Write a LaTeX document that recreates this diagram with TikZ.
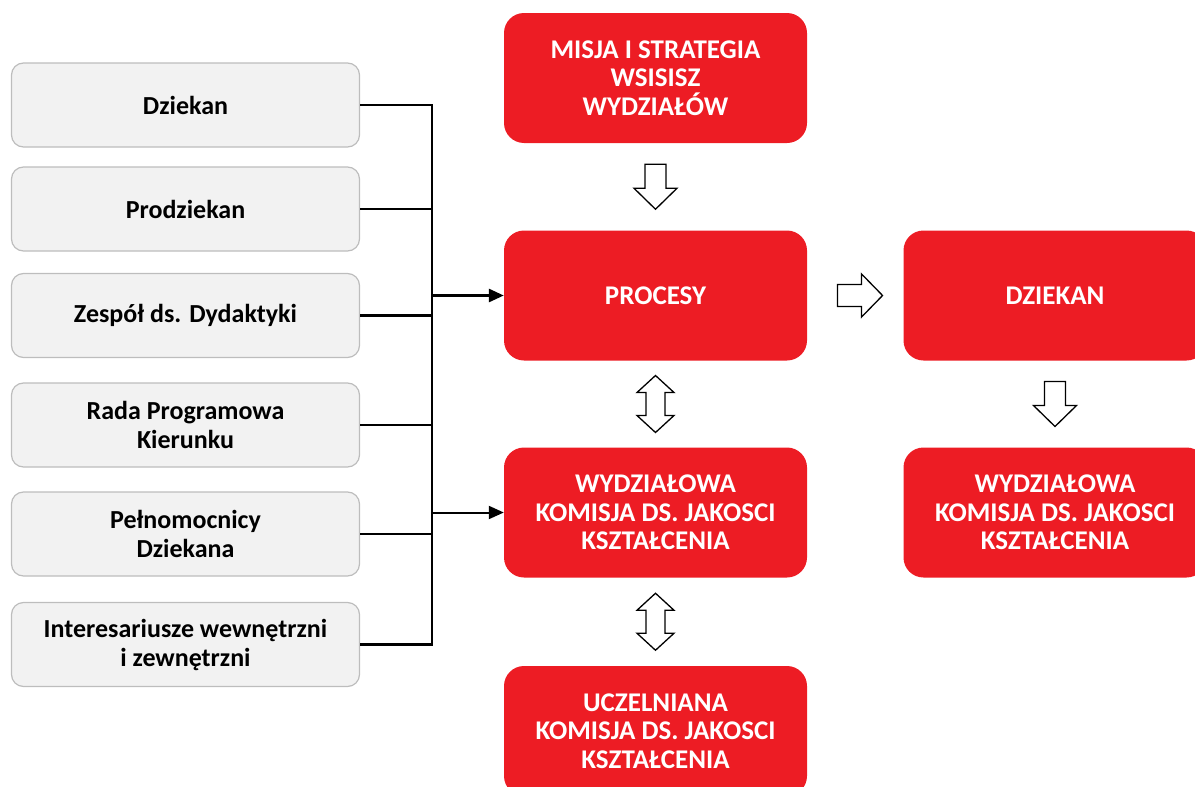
\documentclass[tikz,border=0pt]{standalone}
\usepackage{fontspec}
\setmainfont{Carlito}
\usetikzlibrary{arrows.meta,calc}
\definecolor{boxred}{HTML}{ED1C24}
\definecolor{boxgray}{HTML}{F2F2F2}
\definecolor{boxedge}{HTML}{BDBDBD}
\begin{document}
\begin{tikzpicture}[x=1pt,y=-1pt,
  graybox/.style={font=\bfseries\fontsize{26}{29}\selectfont,align=center,
    draw=boxedge,fill=boxgray,line width=1.2pt,rounded corners=12pt,
    minimum width=348pt,minimum height=84pt,inner sep=0pt,text=black},
  redbox/.style={font=\bfseries\fontsize{27}{28.5}\selectfont,align=center,
    fill=boxred,draw=none,rounded corners=20pt,
    minimum width=303pt,minimum height=130pt,inner sep=0pt,text=white},
  link/.style={line width=2.2pt,black},
  feed/.style={line width=2pt,black,-{Triangle[length=15pt,width=13pt]}},
  blk/.style={draw=black,fill=white,line width=1.3pt,line join=miter},
  downblk/.pic={\path[blk] (-10.5,-22.5) -- (10.5,-22.5) -- (10.5,1.5) -- (21.5,1.5)
      -- (0,22.5) -- (-21.5,1.5) -- (-10.5,1.5) -- cycle;},
  rightblk/.pic={\path[blk] (-22.5,-11) -- (1.5,-11) -- (1.5,-21.5) -- (22.5,0)
      -- (1.5,21.5) -- (1.5,11) -- (-22.5,11) -- cycle;},
  dblblk/.pic={\path[blk] (0,-28.5) -- (18.5,-11.5) -- (9.5,-11.5) -- (9.5,11.5)
      -- (18.5,11.5) -- (0,28.5) -- (-18.5,11.5) -- (-9.5,11.5) -- (-9.5,-11.5)
      -- (-18.5,-11.5) -- cycle;}
]
\useasboundingbox (0,0) rectangle (1195,787);
\clip (0,0) rectangle (1195,787);

% participants on the left
\node[graybox] (g1) at (185.5,105)   {Dziekan};
\node[graybox] (g2) at (185.5,209)   {Prodziekan};
\node[graybox] (g3) at (185.5,315.5) {Zespół ds. Dydaktyki};
\node[graybox] (g4) at (185.5,425)   {Rada Programowa\\Kierunku};
\node[graybox] (g5) at (185.5,534)   {Pełnomocnicy\\Dziekana};
\node[graybox] (g6) at (185.5,644.5) {Interesariusze wewnętrzni\\i zewnętrzni};

% central column
\node[redbox] (misja)   at (655.5,78)    {MISJA I STRATEGIA\\WSISISZ\\WYDZIAŁÓW};
\node[redbox] (procesy) at (655.5,295.5) {PROCESY};
\node[redbox] (wkdjk)   at (655.5,512.5) {WYDZIAŁOWA\\KOMISJA DS. JAKOSCI\\KSZTAŁCENIA};
\node[redbox] (ucz)     at (655.5,731)   {UCZELNIANA\\KOMISJA DS. JAKOSCI\\KSZTAŁCENIA};

% right column
\node[redbox] (dziekan) at (1055,295.5) {DZIEKAN};
\node[redbox] (wkdjkb)  at (1055,512.5) {WYDZIAŁOWA\\KOMISJA DS. JAKOSCI\\KSZTAŁCENIA};

% collecting bus
\coordinate (bus) at (432,0);
\foreach \g in {g1,g2,g3,g4,g5,g6}
  \draw[link] (\g.east) -- (\g.east -| bus);
\draw[link,line cap=rect] (g1.east -| bus) -- (g6.east -| bus);
\draw[feed,line width=2.8pt] (procesy.west -| bus) -- (procesy.west);
\draw[feed] (wkdjk.west -| bus) -- (wkdjk.west);

% block arrows between the red boxes
\path ($(misja.south)!0.5!(procesy.north)$) pic {downblk};
\path ($(procesy.south)!0.5!(wkdjk.north)$) pic {dblblk};
\path ($(wkdjk.south)!0.5!(ucz.north)$) pic {dblblk};
\path ($(procesy.east)!0.55!(dziekan.west)$) pic {rightblk};
\path ($(dziekan.south)!0.5!(wkdjkb.north)$) pic {downblk};
\end{tikzpicture}
\end{document}
